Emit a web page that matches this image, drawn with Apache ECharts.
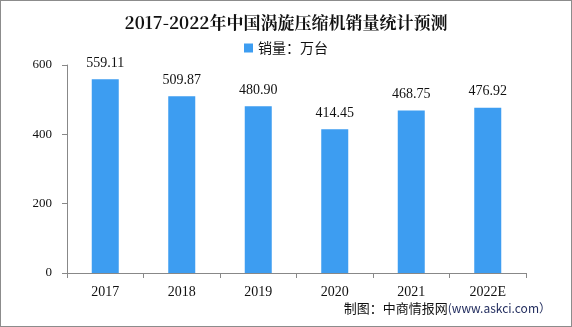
<!DOCTYPE html>
<html>
<head>
<meta charset="utf-8">
<script src="https://cdn.jsdelivr.net/npm/echarts@6/dist/echarts.min.js"></script>
<style>
  html, body { margin: 0; padding: 0; background: #fff; }
  #chart { width: 572px; height: 327px; box-sizing: border-box; border: 1px solid #8c8c8c; }
</style>
</head>
<body>
<div id="chart"></div>
<script>
// Sales of scroll compressors in China, 10k units
const years = ['2017', '2018', '2019', '2020', '2021', '2022E'];
const sales = [559.11, 509.87, 480.90, 414.45, 468.75, 476.92];
const yTicks = [0, 200, 400, 600];

const numFont = '"Liberation Serif", "DejaVu Serif", serif';
const cjkFont = '"Noto Sans CJK SC", sans-serif';

const chart = echarts.init(document.getElementById('chart'), null, { renderer: 'canvas' });
chart.setOption({
  animation: false,
  backgroundColor: '#ffffff',
  title: {
    text: '2017-2022年中国涡旋压缩机销量统计预测',
    left: 'center',
    top: 8,
    textStyle: { fontFamily: '"Noto Serif CJK SC", "Noto Sans CJK SC", serif', fontSize: 17, fontWeight: 'bold', color: '#111' }
  },
  legend: {
    top: 35,
    left: 'center',
    itemWidth: 9,
    itemHeight: 9,
    itemGap: 6,
    icon: 'rect',
    textStyle: { fontFamily: cjkFont, fontSize: 14, color: '#111' },
    data: ['销量：万台']
  },
  grid: { left: 66, right: 45, top: 64, bottom: 53 },
  xAxis: {
    type: 'category',
    data: years,
    axisLine: { lineStyle: { color: '#888', width: 1 } },
    axisTick: { show: true, length: 5, lineStyle: { color: '#888' } },
    axisLabel: { fontFamily: numFont, fontSize: 14, color: '#111', margin: 12 }
  },
  yAxis: {
    type: 'value',
    min: yTicks[0],
    max: yTicks[yTicks.length - 1],
    interval: yTicks[1] - yTicks[0],
    axisLine: { show: true, lineStyle: { color: '#888', width: 1 } },
    axisTick: { show: true, length: 5, lineStyle: { color: '#888' } },
    splitLine: { show: false },
    axisLabel: { fontFamily: numFont, fontSize: 13, color: '#111', margin: 15 }
  },
  series: [{
    name: '销量：万台',
    type: 'bar',
    data: sales,
    barWidth: 27,
    itemStyle: { color: '#3d9df1' },
    label: {
      show: true,
      position: 'top',
      distance: 9,
      fontFamily: numFont,
      fontSize: 14,
      color: '#111',
      formatter: p => p.value.toFixed(2)
    }
  }],
  graphic: [{
    type: 'text',
    right: 20,
    top: 301,
    style: {
      rich: {
        a: { fontFamily: cjkFont, fontSize: 13, fill: '#111' },
        b: { fontFamily: cjkFont, fontSize: 12, fill: '#1f2a5c' }
      },
      text: '{a|制图：中商情报网}{b|(www.askci.com）}'
    }
  }]
});
</script>
</body>
</html>
